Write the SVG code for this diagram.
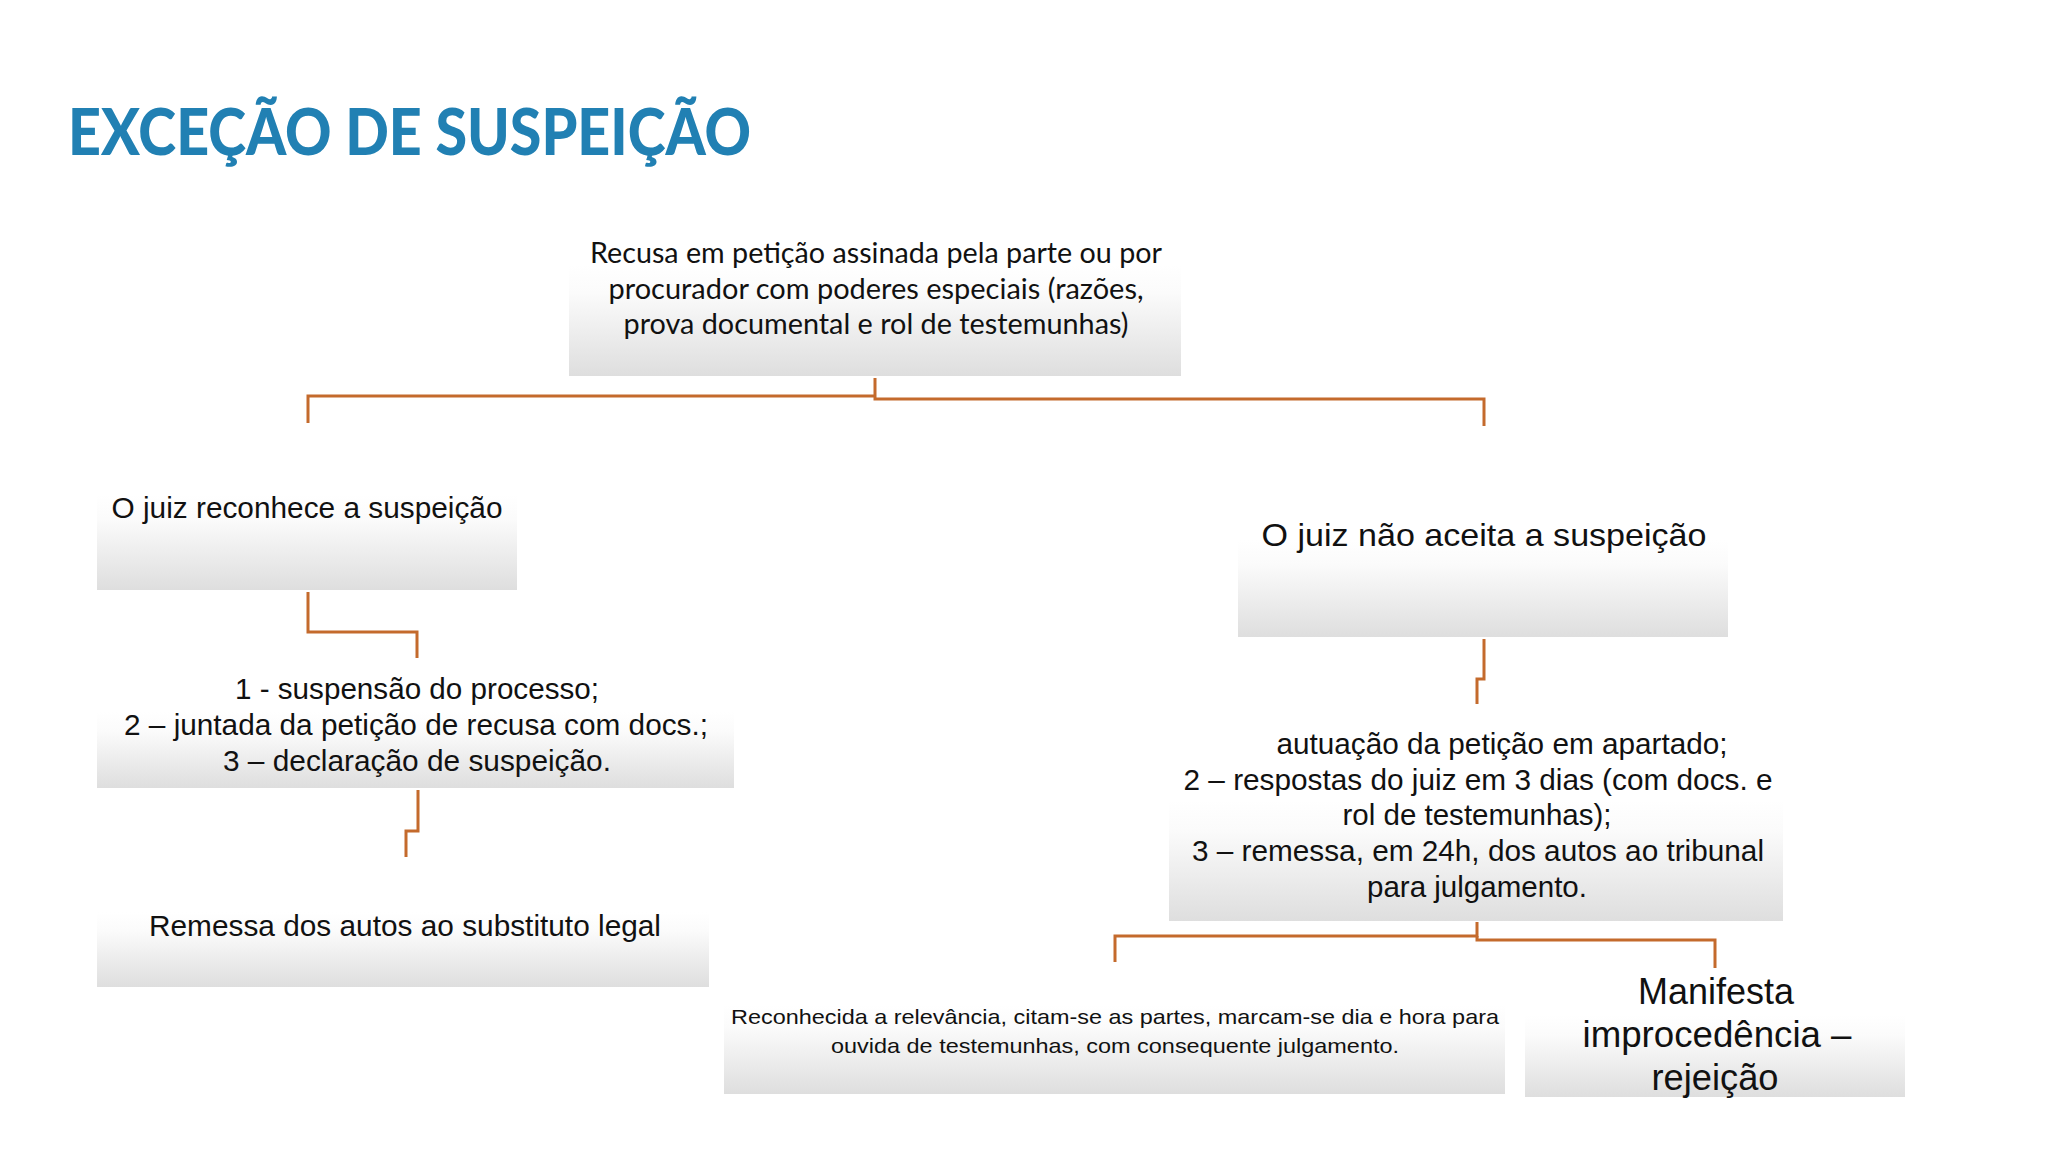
<svg xmlns="http://www.w3.org/2000/svg" width="2048" height="1152" viewBox="0 0 2048 1152">
<defs>
<linearGradient id="g" x1="0" y1="0" x2="0" y2="1">
<stop offset="0" stop-color="#ffffff"/>
<stop offset="0.25" stop-color="#fbfbfb"/>
<stop offset="1" stop-color="#dedede"/>
</linearGradient>
<style>
.box{fill:url(#g);}
.t{font-family:"Liberation Sans",Arial,sans-serif;fill:#111;text-anchor:middle;}
.c{font-family:Lato,"Open Sans",sans-serif;fill:#111;text-anchor:middle;}
.conn{fill:none;stroke:#C46A2C;stroke-width:3;}
</style>
</defs>
<rect width="2048" height="1152" fill="#ffffff"/>
<text x="68" y="155" font-family="Lato,'Open Sans',sans-serif" font-weight="900" font-size="64" fill="#2180B3" textLength="683" lengthAdjust="spacingAndGlyphs">EXCEÇÃO DE SUSPEIÇÃO</text>

<g id="connectors">
<path class="conn" d="M875 378 V399 H1484 V426"/>
<path class="conn" d="M875 396 H308 V423"/>
<path class="conn" d="M308 592 V632 H417 V658"/>
<path class="conn" d="M418 790 V831 H406 V857"/>
<path class="conn" d="M1484 639 V679 H1477 V704"/>
<path class="conn" d="M1477 922 V936 H1115 V962"/>
<path class="conn" d="M1477 936 V940 H1715 V968"/>
</g>

<g id="nodeA">
<rect class="box" x="569" y="265" width="612" height="111"/>
<text class="c" x="876" y="263" font-size="29" textLength="572" lengthAdjust="spacingAndGlyphs">Recusa em petição assinada pela parte ou por</text>
<text class="c" x="876" y="299" font-size="29" textLength="535" lengthAdjust="spacingAndGlyphs">procurador com poderes especiais (razões,</text>
<text class="c" x="876" y="334" font-size="29" textLength="505" lengthAdjust="spacingAndGlyphs">prova documental e rol de testemunhas)</text>
</g>

<g id="nodeB">
<rect class="box" x="97" y="495" width="420" height="95"/>
<text class="t" x="307" y="518" font-size="29" textLength="391" lengthAdjust="spacingAndGlyphs">O juiz reconhece a suspeição</text>
</g>

<g id="nodeC">
<rect class="box" x="97" y="712" width="637" height="76"/>
<text class="t" x="417" y="699" font-size="30" textLength="364" lengthAdjust="spacingAndGlyphs">1 - suspensão do processo;</text>
<text class="t" x="416" y="735" font-size="30" textLength="584" lengthAdjust="spacingAndGlyphs">2 – juntada da petição de recusa com docs.;</text>
<text class="t" x="417" y="771" font-size="30" textLength="388" lengthAdjust="spacingAndGlyphs">3 – declaração de suspeição.</text>
</g>

<g id="nodeD">
<rect class="box" x="97" y="912" width="612" height="75"/>
<text class="t" x="405" y="936" font-size="30" textLength="512" lengthAdjust="spacingAndGlyphs">Remessa dos autos ao substituto legal</text>
</g>

<g id="nodeE">
<rect class="box" x="1238" y="540" width="490" height="97"/>
<text class="t" x="1484" y="546" font-size="32" textLength="445" lengthAdjust="spacingAndGlyphs">O juiz não aceita a suspeição</text>
</g>

<g id="nodeF">
<rect class="box" x="1169" y="800" width="614" height="121"/>
<text class="t" x="1502" y="754" font-size="30" textLength="451" lengthAdjust="spacingAndGlyphs">autuação da petição em apartado;</text>
<text class="t" x="1478" y="790" font-size="30" textLength="589" lengthAdjust="spacingAndGlyphs">2 – respostas do juiz em 3 dias (com docs. e</text>
<text class="t" x="1477" y="825" font-size="30" textLength="269" lengthAdjust="spacingAndGlyphs">rol de testemunhas);</text>
<text class="t" x="1478" y="861" font-size="30" textLength="572" lengthAdjust="spacingAndGlyphs">3 – remessa, em 24h, dos autos ao tribunal</text>
<text class="t" x="1477" y="897" font-size="30" textLength="220" lengthAdjust="spacingAndGlyphs">para julgamento.</text>
</g>

<g id="nodeG">
<rect class="box" x="724" y="1005" width="781" height="89"/>
<text class="t" x="1115" y="1024" font-size="21" textLength="768" lengthAdjust="spacingAndGlyphs">Reconhecida a relevância, citam-se as partes, marcam-se dia e hora para</text>
<text class="t" x="1115" y="1053" font-size="21" textLength="568" lengthAdjust="spacingAndGlyphs">ouvida de testemunhas, com consequente julgamento.</text>
</g>

<g id="nodeH">
<rect class="box" x="1525" y="1015" width="380" height="82"/>
<text class="t" x="1716" y="1004" font-size="36" textLength="156" lengthAdjust="spacingAndGlyphs">Manifesta</text>
<text class="t" x="1717" y="1047" font-size="36" textLength="269" lengthAdjust="spacingAndGlyphs">improcedência –</text>
<text class="t" x="1715" y="1090" font-size="36" textLength="127" lengthAdjust="spacingAndGlyphs">rejeição</text>
</g>
</svg>
